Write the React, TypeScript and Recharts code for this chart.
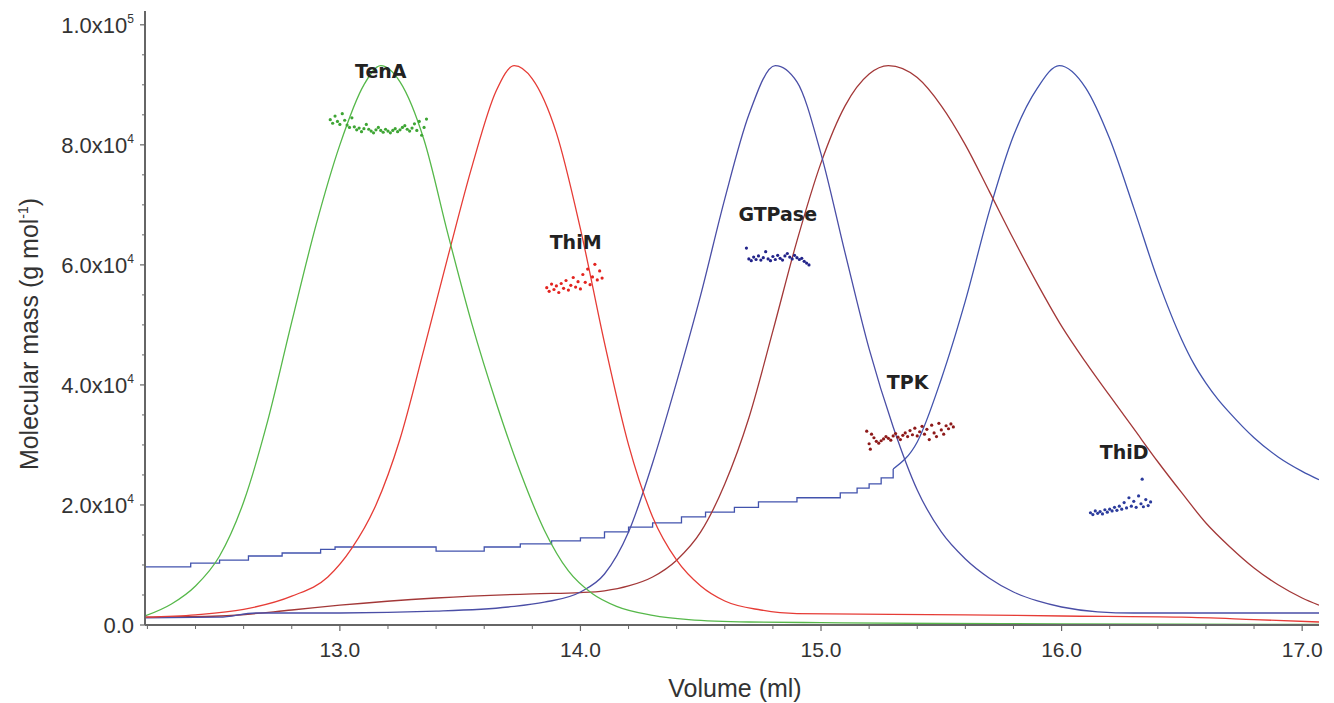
import React from 'react';
import { ComposedChart, Line, Scatter, XAxis, YAxis, ReferenceDot } from 'recharts';

// elution traces, [volume (ml), scaled signal]
const tenaTrace = [
  [12.19, 1500], [12.3, 3500], [12.4, 6500], [12.5, 11500], [12.6, 20500], [12.7, 34000],
  [12.8, 50500], [12.9, 66500], [13.0, 80000], [13.1, 90000], [13.17, 93200], [13.25, 90500],
  [13.35, 80800], [13.45, 65000], [13.55, 50000], [13.65, 37000], [13.75, 25500], [13.85, 15800],
  [13.95, 9000], [14.05, 5200], [14.15, 3100], [14.3, 1600], [14.45, 900], [14.7, 500],
  [15.0, 400], [15.5, 250], [16.0, 200], [17.07, 100],
];
const thimTrace = [
  [12.19, 1300], [12.4, 1700], [12.6, 2600], [12.8, 4800], [12.95, 8000], [13.05, 12800],
  [13.15, 20000], [13.25, 31000], [13.35, 46000], [13.45, 61500], [13.55, 76500], [13.65, 89000],
  [13.725, 93200], [13.8, 91000], [13.9, 82000], [14.0, 66000], [14.1, 47000], [14.2, 30000],
  [14.3, 18000], [14.4, 10800], [14.5, 6500], [14.6, 4000], [14.75, 2500], [14.9, 1900],
  [15.6, 1700], [16.0, 1500], [16.5, 1300], [16.8, 900], [17.07, 500],
];
const gtpaseTrace = [
  [12.19, 1200], [12.5, 1300], [12.65, 2000], [13.0, 2000], [13.4, 2300], [13.7, 3000],
  [13.85, 3800], [14.0, 5500], [14.1, 8500], [14.2, 15500], [14.3, 27000], [14.4, 40500],
  [14.5, 55000], [14.6, 71000], [14.7, 85000], [14.81, 93200], [14.9, 90500], [15.0, 78500],
  [15.1, 62000], [15.2, 46000], [15.3, 33000], [15.4, 22500], [15.5, 15500], [15.6, 11000],
  [15.7, 7800], [15.8, 5500], [15.9, 4000], [16.0, 3000], [16.15, 2200], [16.3, 2000], [17.07, 2000],
];
const tpkTrace = [
  [12.19, 1300], [12.5, 1500], [12.8, 2500], [13.0, 3300], [13.4, 4500], [13.8, 5200],
  [14.0, 5400], [14.1, 5700], [14.2, 6500], [14.3, 8000], [14.4, 10800], [14.5, 15500],
  [14.6, 23500], [14.7, 34500], [14.8, 49000], [14.9, 64000], [15.0, 77000], [15.1, 86500],
  [15.2, 91800], [15.28, 93200], [15.4, 91200], [15.5, 86500], [15.6, 80000], [15.7, 72200],
  [15.8, 64300], [15.9, 56800], [16.0, 49800], [16.1, 43800], [16.2, 38200], [16.3, 32700],
  [16.4, 27200], [16.5, 22000], [16.6, 17000], [16.7, 13000], [16.8, 9500], [16.9, 6700],
  [17.0, 4500], [17.07, 3300],
];
const thidBaseline = [
  [12.19, 9700], [12.38, 10300], [12.5, 10800], [12.62, 11500], [12.76, 12000], [12.92, 12600],
  [12.98, 13000], [13.4, 12300], [13.6, 13000], [13.75, 13500], [13.88, 14000], [14.0, 14500],
  [14.1, 15500], [14.2, 16300], [14.3, 17000], [14.42, 18000], [14.52, 18800], [14.64, 19600],
  [14.74, 20500], [14.9, 21200], [15.08, 22000], [15.15, 22800], [15.2, 23500], [15.25, 24500],
  [15.3, 26000],
];
const thidTrace = [
  [15.3, 26000], [15.4, 30500], [15.5, 41000], [15.6, 54000], [15.7, 69000], [15.8, 81500],
  [15.9, 89500], [15.99, 93200], [16.1, 89500], [16.2, 81000], [16.3, 69500], [16.4, 57500],
  [16.5, 47500], [16.55, 43500], [16.6, 40300], [16.65, 37600], [16.7, 35300], [16.8, 31200],
  [16.9, 28000], [17.0, 25600], [17.07, 24200],
];

// molar mass points, [volume (ml), g/mol]
const tenaMass = [
  [12.96, 84200], [12.97, 83600], [12.98, 84800], [12.99, 83900], [13.0, 83400], [13.01, 85200],
  [13.02, 84100], [13.03, 83300], [13.04, 82900], [13.05, 84500], [13.06, 83000], [13.07, 82500],
  [13.08, 82800], [13.09, 82200], [13.1, 82700], [13.11, 83400], [13.12, 82600], [13.13, 82300],
  [13.14, 82000], [13.15, 82500], [13.16, 82900], [13.17, 82400], [13.18, 82100], [13.19, 82600],
  [13.2, 82300], [13.21, 82000], [13.22, 82400], [13.23, 82700], [13.24, 82200], [13.25, 82500],
  [13.26, 82900], [13.27, 83200], [13.28, 82600], [13.29, 82300], [13.3, 82800], [13.31, 83500],
  [13.32, 82400], [13.33, 83900], [13.34, 81600], [13.35, 82900], [13.36, 84300],
];
const thimMass = [
  [13.86, 56200], [13.87, 55600], [13.88, 56800], [13.89, 55900], [13.9, 56500], [13.91, 55400],
  [13.92, 56900], [13.93, 56100], [13.94, 57400], [13.95, 55800], [13.96, 56600], [13.97, 57900],
  [13.98, 56300], [13.99, 57200], [14.0, 56000], [14.01, 58400], [14.02, 57100], [14.03, 59300],
  [14.04, 56700], [14.05, 58000], [14.06, 60100], [14.07, 57500], [14.08, 59000], [14.09, 57800],
];
const gtpaseMass = [
  [14.69, 62800], [14.7, 61000], [14.71, 60700], [14.72, 61300], [14.73, 60900], [14.74, 61500],
  [14.75, 60800], [14.76, 61200], [14.77, 62200], [14.78, 61000], [14.79, 60700], [14.8, 61400],
  [14.81, 60900], [14.82, 61600], [14.83, 61100], [14.84, 60800], [14.85, 61500], [14.86, 61900],
  [14.87, 61300], [14.88, 61000], [14.89, 61600], [14.9, 61200], [14.91, 60900], [14.92, 61100],
  [14.93, 60600], [14.94, 60300], [14.95, 60000],
];
const tpkMass = [
  [15.19, 32300], [15.2, 30200], [15.205, 29300], [15.21, 31800], [15.22, 31200], [15.23, 30600],
  [15.24, 30300], [15.25, 30700], [15.26, 31000], [15.27, 31400], [15.28, 31100], [15.29, 30800],
  [15.3, 31500], [15.31, 31900], [15.32, 31300], [15.33, 30900], [15.34, 31600], [15.35, 32000],
  [15.36, 31400], [15.37, 32400], [15.38, 31700], [15.39, 32800], [15.4, 31500], [15.41, 32200],
  [15.42, 33100], [15.43, 31800], [15.44, 32600], [15.45, 30900], [15.46, 33300], [15.47, 32000],
  [15.48, 31400], [15.49, 33600], [15.5, 32500], [15.51, 31800], [15.52, 33200], [15.53, 32700],
  [15.54, 33500], [15.55, 33000],
];
const thidMass = [
  [16.12, 18700], [16.13, 18400], [16.14, 19000], [16.15, 18600], [16.16, 18900], [16.17, 18500],
  [16.18, 19200], [16.19, 18800], [16.2, 19300], [16.21, 19000], [16.22, 19600], [16.23, 19100],
  [16.24, 19800], [16.25, 19300], [16.26, 20400], [16.27, 19500], [16.28, 21200], [16.29, 19800],
  [16.3, 20600], [16.31, 19600], [16.32, 21500], [16.33, 20200], [16.34, 19700], [16.35, 20900],
  [16.36, 19900], [16.37, 20500], [16.335, 24300],
];

// protein names, placed at [volume, mass]
const proteinNames = ['TenA', 'ThiM', 'GTPase', 'TPK', 'ThiD'];
const nameSpots = [[13.17, 92300], [13.98, 63700], [14.82, 68500], [15.36, 40500], [16.26, 28700]];

// axis ticks
const xTicks = [12.2, 12.4, 12.6, 12.8, 13.0, 13.2, 13.4, 13.6, 13.8, 14.0, 14.2, 14.4, 14.6, 14.8,
  15.0, 15.2, 15.4, 15.6, 15.8, 16.0, 16.2, 16.4, 16.6, 16.8, 17.0];
const xMajor = [13, 14, 15, 16, 17];
const xMajorLabels = ['13.0', '14.0', '15.0', '16.0', '17.0'];
const yTicks = [0, 5000, 10000, 15000, 20000, 25000, 30000, 35000, 40000, 45000, 50000,
  55000, 60000, 65000, 70000, 75000, 80000, 85000, 90000, 95000, 100000];
const yMajor = [0, 20000, 40000, 60000, 80000, 100000];
const yMantissa = ['0.0', '2.0x10', '4.0x10', '6.0x10', '8.0x10', '1.0x10'];
const yExponent = ['', '4', '4', '4', '4', '5'];

const toPoints = (rows: number[][]) => rows.map(([x, y]) => ({ x, y }));

const axisColor = '#666';
const textColor = '#333';
const font = '"Liberation Sans", Arial, sans-serif';

const XTick = (props: any) => {
  const { x, y, payload } = props;
  const i = xMajor.findIndex((v) => Math.abs(v - payload.value) < 1e-6);
  if (i < 0) return <line x1={x} x2={x} y1={y} y2={y + 4} stroke={axisColor} strokeWidth={1} />;
  return (
    <g>
      <line x1={x} x2={x} y1={y} y2={y + 6} stroke={axisColor} strokeWidth={1.2} />
      <text x={x} y={y + 32} textAnchor="middle" fontSize={21} fill={textColor} fontFamily={font}>
        {xMajorLabels[i]}
      </text>
    </g>
  );
};

const YTick = (props: any) => {
  const { x, y, payload } = props;
  const i = yMajor.indexOf(payload.value);
  if (i < 0) return <line x1={x - 3} x2={x} y1={y} y2={y} stroke={axisColor} strokeWidth={1} />;
  return (
    <g>
      <line x1={x - 5} x2={x} y1={y} y2={y} stroke={axisColor} strokeWidth={1.2} />
      <text x={x - 11} y={y + 8} textAnchor="end" fontSize={22} fill={textColor} fontFamily={font}>
        <tspan>{yMantissa[i]}</tspan>
        {yExponent[i] && <tspan dy={-10} fontSize={12}>{yExponent[i]}</tspan>}
      </text>
    </g>
  );
};

const Dot = (color: string) => (props: any) => (
  <circle cx={props.cx} cy={props.cy} r={1.6} fill={color} />
);

const App = () => {
  return (
    <div style={{ position: 'absolute', left: 0, top: 0, width: 1334, height: 703, background: '#fff' }}>
      <ComposedChart width={1334} height={703} margin={{ top: 11, right: 15, left: 0, bottom: 0 }}>
        <XAxis
          type="number"
          dataKey="x"
          domain={[12.19, 17.07]}
          allowDataOverflow
          ticks={xTicks}
          interval={0}
          tick={<XTick />}
          tickLine={false}
          tickSize={0}
          tickMargin={0}
          height={78}
          axisLine={{ stroke: axisColor, strokeWidth: 2 }}
        />
        <XAxis
          xAxisId="top"
          orientation="top"
          type="number"
          domain={[12.19, 17.07]}
          tick={false}
          tickLine={false}
          height={0}
          axisLine={{ stroke: axisColor, strokeWidth: 1.5 }}
        />
        <YAxis
          type="number"
          dataKey="y"
          domain={[0, 102300]}
          allowDataOverflow
          ticks={yTicks}
          interval={0}
          tick={<YTick />}
          tickLine={false}
          tickSize={0}
          tickMargin={0}
          width={145}
          axisLine={{ stroke: axisColor, strokeWidth: 2 }}
        />
        <YAxis
          yAxisId="right"
          orientation="right"
          type="number"
          domain={[0, 102300]}
          tick={false}
          tickLine={false}
          width={0}
          axisLine={{ stroke: axisColor, strokeWidth: 1.5 }}
        />

        <Line data={toPoints(thidBaseline)} dataKey="y" type="stepAfter" stroke="#4253ad" strokeWidth={1.3} dot={false} isAnimationActive={false} />
        <Line data={toPoints(thidTrace)} dataKey="y" type="monotone" stroke="#4253ad" strokeWidth={1.3} dot={false} isAnimationActive={false} />
        <Line data={toPoints(tpkTrace)} dataKey="y" type="monotone" stroke="#a33838" strokeWidth={1.3} dot={false} isAnimationActive={false} />
        <Line data={toPoints(gtpaseTrace)} dataKey="y" type="monotone" stroke="#4a4ea6" strokeWidth={1.3} dot={false} isAnimationActive={false} />
        <Line data={toPoints(thimTrace)} dataKey="y" type="monotone" stroke="#e63c36" strokeWidth={1.3} dot={false} isAnimationActive={false} />
        <Line data={toPoints(tenaTrace)} dataKey="y" type="monotone" stroke="#56b84a" strokeWidth={1.3} dot={false} isAnimationActive={false} />

        <Scatter data={toPoints(tenaMass)} dataKey="y" shape={Dot('#3ea534')} isAnimationActive={false} />
        <Scatter data={toPoints(thimMass)} dataKey="y" shape={Dot('#e3231f')} isAnimationActive={false} />
        <Scatter data={toPoints(gtpaseMass)} dataKey="y" shape={Dot('#22238a')} isAnimationActive={false} />
        <Scatter data={toPoints(tpkMass)} dataKey="y" shape={Dot('#8e1a1a')} isAnimationActive={false} />
        <Scatter data={toPoints(thidMass)} dataKey="y" shape={Dot('#2b3b9c')} isAnimationActive={false} />

        {proteinNames.map((name, i) => (
          <ReferenceDot
            key={name}
            x={nameSpots[i][0]}
            y={nameSpots[i][1]}
            r={0}
            fill="none"
            stroke="none"
            ifOverflow="visible"
            label={{ value: name, position: 'center', fill: '#222', fontSize: 19, fontWeight: 'bold', fontFamily: '"DejaVu Sans", sans-serif' }}
          />
        ))}
      </ComposedChart>

      <div
        style={{
          position: 'absolute', left: 29, top: 334, transform: 'translate(-50%, -50%) rotate(-90deg)',
          whiteSpace: 'nowrap', fontFamily: font, fontSize: 25, color: textColor,
        }}
      >
        Molecular mass (g mol<sup style={{ fontSize: 14 }}>-1</sup>)
      </div>
      <div
        style={{
          position: 'absolute', left: 735, top: 688, transform: 'translate(-50%, -50%)',
          whiteSpace: 'nowrap', fontFamily: font, fontSize: 25, color: textColor,
        }}
      >
        Volume (ml)
      </div>
    </div>
  );
};

export default App;
